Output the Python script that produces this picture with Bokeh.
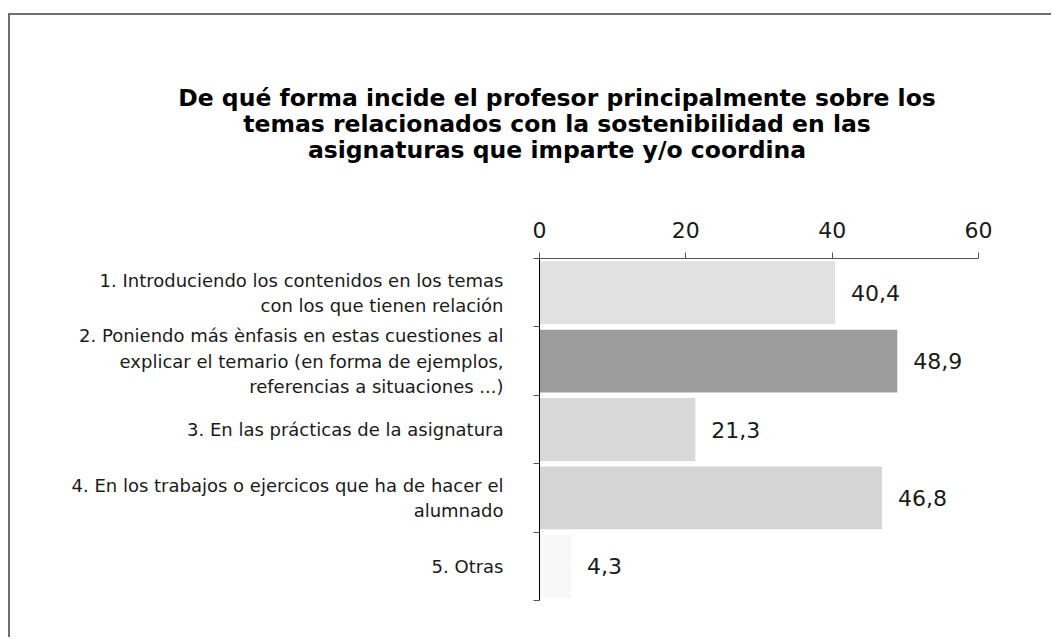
from bokeh.plotting import figure
from bokeh.models import Range1d, FixedTicker, ColumnDataSource, Div
from bokeh.layouts import column
from bokeh.embed import file_html
from bokeh.resources import INLINE
from bokeh.core.properties import value

# ---- data ----
title_lines = [
    "De qué forma incide el profesor principalmente sobre los",
    "temas relacionados con la sostenibilidad en las",
    "asignaturas que imparte y/o coordina",
]
categories = [
    "1. Introduciendo los contenidos en los temas\ncon los que tienen relación",
    "2. Poniendo más ènfasis en estas cuestiones al\nexplicar el temario (en forma de ejemplos,\nreferencias a situaciones ...)",
    "3. En las prácticas de la asignatura",
    "4. En los trabajos o ejercicos que ha de hacer el\nalumnado",
    "5. Otras",
]
percentages = [40.4, 48.9, 21.3, 46.8, 4.3]
x_ticks = [0, 20, 40, 60]

# ---- styles ----
bar_colors = ["#e0e1e0", "#9d9d9d", "#d8d8d8", "#d4d5d4", "#f8f8f8"]
FONT = "DejaVu Sans"

n = len(categories)
ys = [i + 0.5 for i in range(n)]
labels = [f"{v:.1f}".replace(".", ",") for v in percentages]

source = ColumnDataSource(data=dict(y=ys, right=percentages, color=bar_colors, label=labels))

# title block
title_html = (
    "<div style=\"width:860px; margin-left:117px; padding-top:70px; text-align:center; "
    "font-family:'DejaVu Sans'; font-weight:bold; font-size:23.5px; line-height:26px; color:black;\">"
    + "<br>".join(title_lines) + "</div>"
)
title_div = Div(text=title_html, width=1041, height=160, margin=0)

p = figure(
    width=1041, height=462,
    x_range=Range1d(0, 60), y_range=Range1d(n, 0),
    x_axis_location="above",
    output_backend="svg", toolbar_location=None,
    min_border_left=529, min_border_right=73,
    min_border_top=83, min_border_bottom=37,
)
p.margin = 0
p.title.visible = False
p.outline_line_color = None
p.grid.visible = False
p.background_fill_color = "white"
p.border_fill_color = "white"

p.hbar(y="y", left=0, right="right", height=0.92, fill_color="color", line_color=None, source=source)
p.text(x="right", y="y", text="label", x_offset=16, text_baseline="middle",
       text_font=value(FONT), text_font_size="22px", text_color="#1a1a1a", source=source)

# top x axis
xa = p.xaxis[0]
xa.ticker = FixedTicker(ticks=x_ticks)
xa.major_tick_out = 6
xa.major_tick_in = 0
xa.minor_tick_line_color = None
xa.axis_line_color = "#555555"
xa.major_tick_line_color = "#555555"
xa.major_label_text_font = FONT
xa.major_label_text_font_size = "22px"
xa.major_label_text_color = "#1a1a1a"
xa.major_label_standoff = 15

# left y axis with category labels
ya = p.yaxis[0]
ya.ticker = FixedTicker(ticks=ys, minor_ticks=list(range(n + 1)))
ya.major_label_overrides = {y: c for y, c in zip(ys, categories)}
ya.major_tick_line_color = None
ya.major_tick_out = 0
ya.major_tick_in = 0
ya.minor_tick_out = 6
ya.minor_tick_in = 0
ya.minor_tick_line_color = "#555555"
ya.axis_line_color = "black"
ya.major_label_text_font = FONT
ya.major_label_text_font_size = "18px"
ya.major_label_text_color = "#1a1a1a"
ya.major_label_text_align = "center"
ya.major_label_standoff = 30

layout = column(title_div, p, spacing=0)
layout.styles = {"border-top": "2px solid #6f6f6f", "border-left": "2px solid #6f6f6f",
                 "margin-top": "13px", "margin-left": "8px", "background-color": "white"}

open("out.html", "w").write(file_html(layout, INLINE))
